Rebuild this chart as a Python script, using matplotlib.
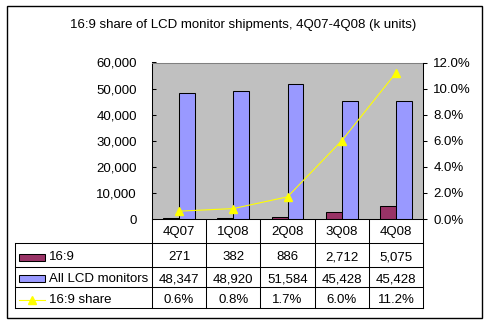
import matplotlib
matplotlib.use("Agg")
import matplotlib.pyplot as plt
from matplotlib.patches import Rectangle
from matplotlib.lines import Line2D
from matplotlib.ticker import FuncFormatter

plt.rcParams['font.family'] = ['Liberation Sans', 'DejaVu Sans']

title = "16:9 share of LCD monitor shipments, 4Q07-4Q08 (k units)"
categories = ["4Q07", "1Q08", "2Q08", "3Q08", "4Q08"]
wide_169 = [271, 382, 886, 2712, 5075]
all_lcd = [48347, 48920, 51584, 45428, 45428]
share_169 = [0.6, 0.8, 1.7, 6.0, 11.2]  # percent
series_names = ["16:9", "All LCD monitors", "16:9 share"]

c_maroon = "#993366"
c_blue = "#9999FF"
c_yellow = "#FFFF00"
c_plot = "#C0C0C0"

W, H = 490, 325
FS = 9.5
LW = 0.75
fig = plt.figure(figsize=(W / 100, H / 100), dpi=100, facecolor="white")

# pixel geometry
px_l, px_r, px_t, px_b = 152, 423, 62.5, 219
ax = fig.add_axes([px_l / W, 1 - px_b / H, (px_r - px_l) / W, (px_b - px_t) / H])
ax.set_facecolor(c_plot)
n = len(categories)
xs = list(range(n))
bw = 0.295
ax.bar([x - bw / 2 for x in xs], wide_169, width=bw, color=c_maroon,
       edgecolor="black", linewidth=LW, zorder=2)
ax.bar([x + bw / 2 for x in xs], all_lcd, width=bw, color=c_blue,
       edgecolor="black", linewidth=LW, zorder=2)
ax.set_xlim(-0.5, n - 0.5)
ax.set_ylim(0, 60000)
ax.set_yticks(range(0, 60001, 10000))
ax.yaxis.set_major_formatter(FuncFormatter(lambda v, p: f"{int(v):,}"))
ax.tick_params(axis='y', direction='in', length=3, width=LW, pad=11,
               labelsize=FS, colors="black")
ax.set_xticks([])
for s in ("left", "bottom"):
    ax.spines[s].set_color("black")
    ax.spines[s].set_linewidth(LW)
ax.spines["top"].set_color("#808080")
ax.spines["top"].set_linewidth(LW)
ax.spines["right"].set_visible(False)

ax2 = ax.twinx()
ax2.plot(xs, [s / 100 for s in share_169], color=c_yellow, linewidth=0.8,
         marker="^", markersize=5.5, markerfacecolor=c_yellow,
         markeredgecolor=c_yellow, zorder=3)
ax2.set_ylim(0, 0.12)
ax2.set_yticks([i * 0.02 for i in range(7)])
ax2.yaxis.set_major_formatter(FuncFormatter(lambda v, p: f"{v * 100:.1f}%"))
ax2.tick_params(axis='y', direction='out', length=3, width=LW, pad=4.5,
                labelsize=FS, colors="black")
for s in ("left", "bottom", "top"):
    ax2.spines[s].set_visible(False)
ax2.spines["right"].set_color("black")
ax2.spines["right"].set_linewidth(LW)

# overlay in pixel coordinates for title, table, border
ov = fig.add_axes([0, 0, 1, 1], facecolor="none")
ov.set_xlim(0, W)
ov.set_ylim(H, 0)
ov.axis("off")
ov.set_zorder(-1)

ov.add_patch(Rectangle((7, 6), 475, 312, fill=False, edgecolor="black", linewidth=1.0))
ov.text(243, 25, title, ha="center", va="center", fontsize=FS)

col_edges = [px_l + (px_r - px_l) * i / n for i in range(n + 1)]
col_centers = [(col_edges[i] + col_edges[i + 1]) / 2 for i in range(n)]
row_lines = [219, 243.3, 266.7, 287.3, 308.3]
tbl_left = 15
lk = dict(color="black", linewidth=LW)
for y in row_lines[1:]:
    ov.add_line(Line2D([tbl_left, px_r], [y, y], **lk))
for xe in col_edges:
    ov.add_line(Line2D([xe, xe], [row_lines[0], row_lines[-1]], **lk))
ov.add_line(Line2D([tbl_left, tbl_left], [row_lines[1], row_lines[-1]], **lk))

# category row
for cx, c in zip(col_centers, categories):
    ov.text(cx, 232, c, ha="center", va="center", fontsize=FS)

row_y = [257.5, 279, 300]
rows = [
    [f"{v:,}" for v in wide_169],
    [f"{v:,}" for v in all_lcd],
    [f"{v:.1f}%" for v in share_169],
]
for ry, vals in zip(row_y, rows):
    for cx, t in zip(col_centers, vals):
        ov.text(cx, ry, t, ha="center", va="center", fontsize=FS)

# legend keys
ov.add_patch(Rectangle((19, 253.5), 26, 7.2, facecolor=c_maroon, edgecolor="black", linewidth=LW))
ov.add_patch(Rectangle((19, 275), 26, 7.2, facecolor=c_blue, edgecolor="black", linewidth=LW))
ov.add_line(Line2D([19, 45], [300, 300], color=c_yellow, linewidth=0.8))
ov.add_line(Line2D([32], [300], color=c_yellow, marker="^", markersize=5.5, linestyle="none"))
for ry, name in zip(row_y, series_names):
    ov.text(49, ry, name, ha="left", va="center", fontsize=FS)

fig.savefig("out.png", dpi=100, facecolor="white")
